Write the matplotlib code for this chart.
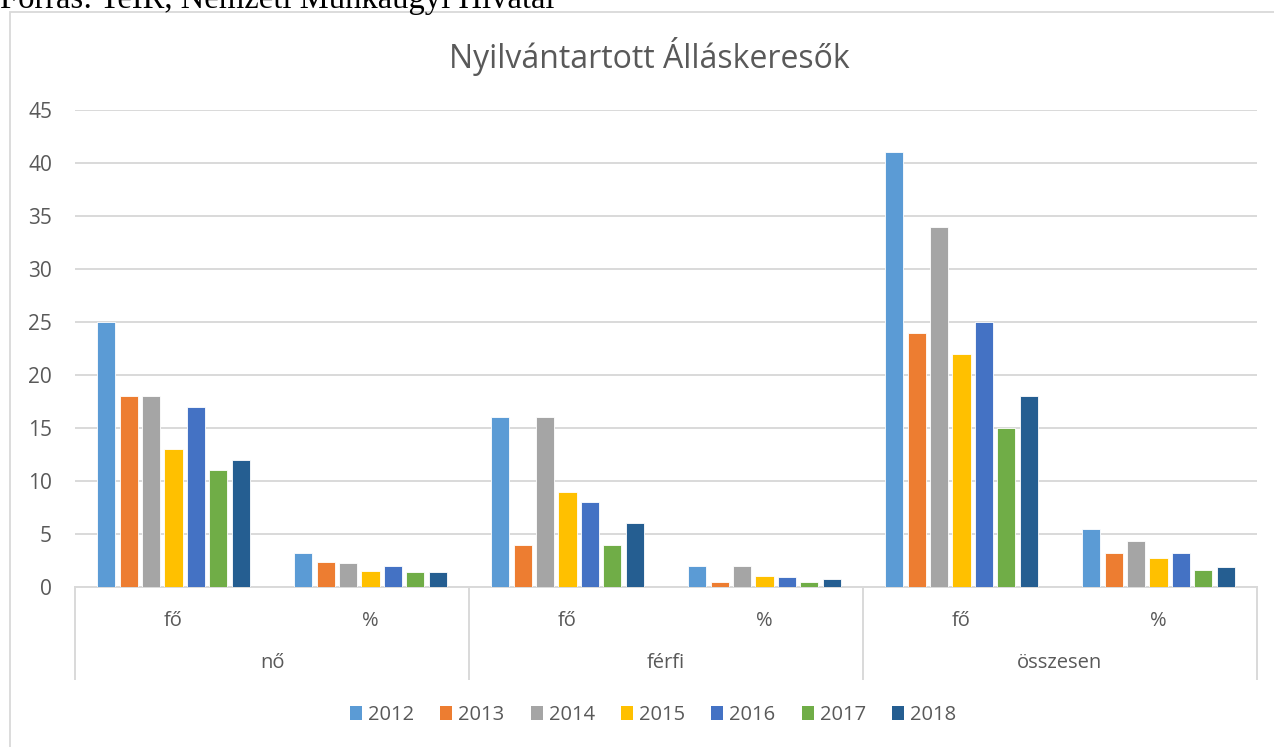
import matplotlib
matplotlib.use("Agg")
import matplotlib.pyplot as plt
import numpy as np
from matplotlib.patches import Rectangle, Patch
from matplotlib.lines import Line2D
import matplotlib.transforms as mtransforms

plt.rcParams['font.family'] = ['Open Sans', 'DejaVu Sans']

title = "Nyilvántartott Álláskeresők"
source = "Forrás: TeIR, Nemzeti Munkaügyi Hivatal"
groups = ["nő", "férfi", "összesen"]
sub_labels = ["fő", "%", "fő", "%", "fő", "%"]
years = ["2012", "2013", "2014", "2015", "2016", "2017", "2018"]
colors = ["#5B9BD5", "#ED7D31", "#A5A5A5", "#FFC000", "#4472C4", "#70AD47", "#255E91"]

v2012 = [25, 3.2, 16, 2.0, 41, 5.5]
v2013 = [18, 2.35, 4, 0.45, 24, 3.2]
v2014 = [18, 2.25, 16, 2.0, 34, 4.3]
v2015 = [13, 1.5, 9, 1.05, 22, 2.75]
v2016 = [17, 2.0, 8, 0.9, 25, 3.2]
v2017 = [11, 1.4, 4, 0.45, 15, 1.65]
v2018 = [12, 1.4, 6, 0.8, 18, 1.9]
series = [v2012, v2013, v2014, v2015, v2016, v2017, v2018]

W, H = 1274, 747
fig = plt.figure(figsize=(W / 100, H / 100), dpi=100)
ax = fig.add_axes([75 / W, 1 - 587 / H, (1257 - 75) / W, (587 - 110) / H])

# chart border
fig.patches.append(Rectangle((10 / W, -0.01), 1.02 - 10 / W, 1 - 12 / H + 0.01,
                             transform=fig.transFigure, fill=False,
                             edgecolor="#D9D9D9", linewidth=1.3))

x = np.arange(len(sub_labels))
slot = 0.1137
bw = 0.092
for i, (vals, c) in enumerate(zip(series, colors)):
    ax.bar(x + (i - 3) * slot, vals, width=bw, color=c, edgecolor="white",
           linewidth=0.6, label=years[i], zorder=3)

ax.set_xlim(-0.5, 5.5)
ax.set_ylim(0, 45)
ax.set_yticks(range(0, 46, 5))
ax.grid(axis='y', color="#D9D9D9", linewidth=1.4, zorder=0)
for s in ["top", "right", "left"]:
    ax.spines[s].set_visible(False)
ax.spines["bottom"].set_color("#D9D9D9")
ax.spines["bottom"].set_linewidth(1.4)
ax.tick_params(axis='y', length=0, labelsize=15, labelcolor="#595959", pad=16.5)
ax.tick_params(axis='x', length=0, labelsize=14.5, labelcolor="#595959", pad=17)
ax.set_xticks(x)
ax.set_xticklabels(sub_labels)

trans = mtransforms.blended_transform_factory(ax.transData, ax.transAxes)
for sx in [-0.5, 1.5, 3.5, 5.5]:
    ax.add_line(Line2D([sx, sx], [0, -92 / 477], transform=trans, color="#D9D9D9",
                       linewidth=1.4, clip_on=False))
for gi, g in enumerate(groups):
    ax.text(2 * gi + 0.5, -76 / 477, g, transform=trans, ha='center', va='center',
            fontsize=14.5, color="#595959")

fig.text(649 / W, 1 - 57 / H, title, ha='center', va='center', fontsize=23, color="#595959")

handles = [Patch(facecolor=c, edgecolor='none') for c in colors]
fig.legend(handles, years, loc='center', bbox_to_anchor=(653 / W, 1 - 715 / H), ncol=7,
           frameon=False, fontsize=14.5, labelcolor="#595959", handlelength=0.6,
           handleheight=0.75, handletextpad=0.3, columnspacing=1.3)

fig.text(0.0, 1 - 8 / H, source, ha='left', va='baseline', fontsize=23.5,
         family='Liberation Serif', color="black")

fig.savefig("out.png", dpi=100, facecolor="white")
